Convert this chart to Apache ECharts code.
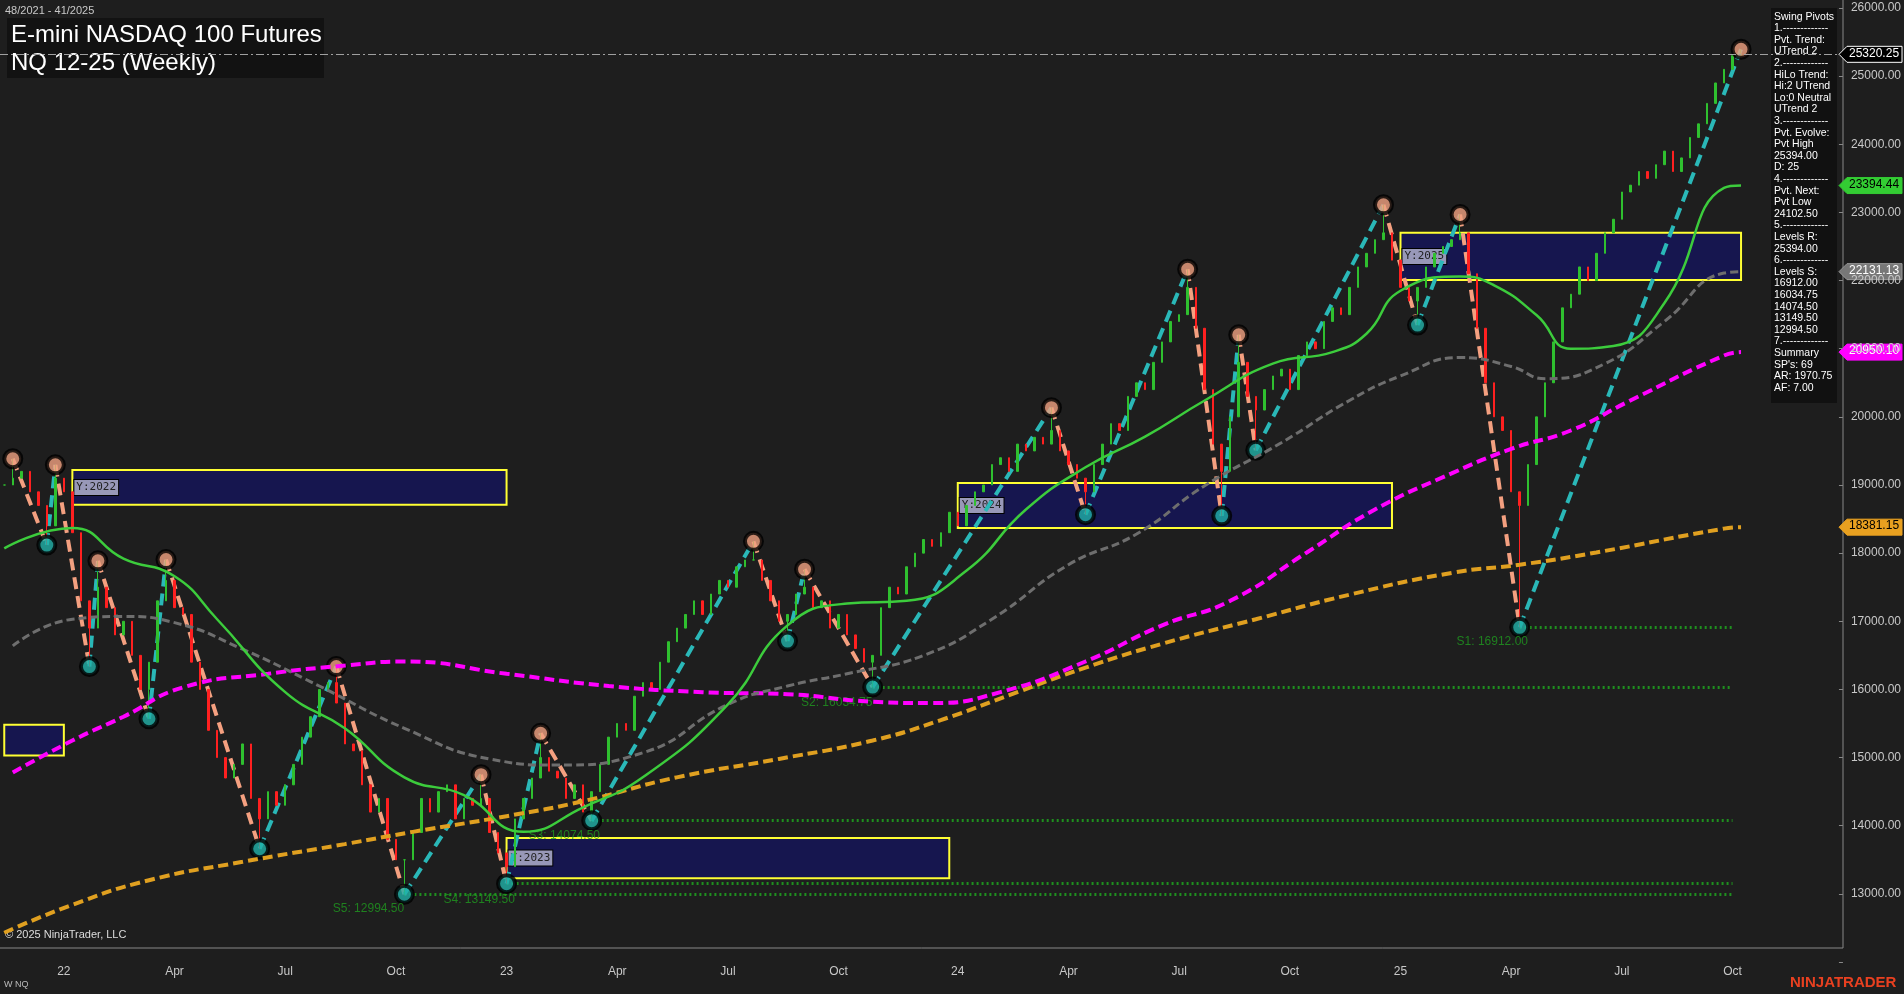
<!DOCTYPE html>
<html style="height: 100%">
  <head>
    <meta charset="utf-8" />
    <title>NQ Weekly</title>
    <script src="https://cdn.jsdelivr.net/npm/echarts@6/dist/echarts.min.js"></script>
  </head>
  <body style="height: 100%; margin: 0; background: #1e1e1e">
    <div id="main" style="width: 1904px; height: 994px"></div>
    <script type="text/javascript">
      // weekly closes (thousands), first week 2021-11-08
      var closes = [
        19.0, 19.1, 19.2, 18.9, 18.7, 18.4, 19.1, 18.9, 18.3, 17.3,
        16.9, 17.5, 17.2, 16.8, 17.0, 16.5, 16.0, 16.4, 17.3, 17.6,
        17.2, 17.1, 16.4, 16.0, 15.4, 15.0, 14.7, 14.9, 15.2, 14.4,
        14.1, 14.5, 14.3, 14.6, 14.9, 15.3, 15.6, 16.0, 16.1, 15.8,
        15.2, 15.1, 14.6, 14.2, 14.4, 13.8, 13.5, 13.5, 13.9, 14.4,
        14.2, 14.5, 14.6, 14.1, 14.4, 14.3, 14.4, 13.9, 13.6, 13.4,
        14.1, 14.4, 14.7, 15.0, 14.8, 14.7, 14.4, 14.6, 14.2, 14.5,
        14.9, 15.3, 15.5, 15.4, 15.9, 16.1, 16.0, 16.4, 16.7, 16.9,
        17.1, 17.3, 17.1, 17.4, 17.6, 17.5, 17.8, 17.9, 17.9, 17.6,
        17.3, 17.0, 17.1, 17.4, 17.5, 17.2, 17.3, 16.9, 17.1, 16.8,
        16.6, 16.4, 16.5, 17.2, 17.5, 17.4, 17.8, 18.0, 18.2, 18.1,
        18.3, 18.6, 18.4, 18.7, 18.9, 19.0, 19.3, 19.4, 19.2, 19.6,
        19.5, 19.7, 19.6, 19.8, 19.5, 19.3, 19.1, 18.9, 19.3, 19.6,
        19.9, 19.8, 20.3, 20.5, 20.4, 20.8, 21.1, 21.4, 21.5, 21.9,
        21.3, 20.4, 19.6, 19.2, 20.0, 20.8, 20.3, 20.1, 20.4, 20.6,
        20.7, 20.4, 20.9, 21.1, 21.0, 21.4, 21.6, 21.5, 21.9, 22.2,
        22.4, 22.6, 22.7, 22.3, 21.9, 21.7, 21.9, 22.2, 22.4, 22.5,
        22.6, 22.7, 22.1, 21.3, 20.5, 20.0, 19.8, 18.9, 18.7, 19.3,
        20.0, 20.5, 21.1, 21.6, 21.8, 22.2, 22.0, 22.4, 22.7, 22.9,
        23.3, 23.4, 23.6, 23.5, 23.7, 23.9, 23.6, 23.8, 24.1, 24.3,
        24.6, 24.9, 25.1, 25.3, 25.32
      ];
      // swing pivots [week index, price]
      var pivots = [
        [1, 19385], [5, 18119], [6, 19296], [10, 16336], [11, 17887],
        [17, 15570], [19, 17905], [30, 13662], [39, 16336], [47, 12994.5],
        [56, 14749], [59, 13149.5], [63, 15356], [69, 14074.5], [88, 18173],
        [92, 16710], [94, 17763], [102, 16034.75], [123, 20135], [127, 18565],
        [139, 22166], [143, 18547], [145, 21204], [147, 19510], [162, 23112],
        [166, 21347], [171, 22970], [178, 16912], [204, 25394]
      ];
      var maFast = [[0,18070],[8,18370],[14,17920],[20,17660],[25,17030],[33,15960],[40,15430],[47,14710],[54,14450],[61,13910],[68,14270],[75,14710],[85,15780],[92,16940],[99,17260],[106,17300],[113,17740],[120,18640],[127,19260],[134,19710],[141,20240],[149,20780],[156,20950],[160,21220],[164,21850],[171,22060],[175,21930],[180,21490],[184,21000],[189,21040],[195,21670],[202,23360],[204,23394]];
      var maMid = [[1,16640],[8,17030],[14,17070],[20,16980],[28,16590],[37,16050],[47,15430],[57,14980],[65,14890],[75,15070],[85,15780],[92,16050],[99,16230],[108,16500],[116,17030],[125,17830],[133,18280],[141,18990],[150,19620],[158,20240],[164,20600],[171,20870],[177,20740],[181,20560],[188,20780],[195,21400],[202,22110],[204,22131]];
      var maSlow = [[1,14780],[8,15250],[14,15600],[21,16030],[31,16230],[40,16350],[47,16410],[59,16230],[71,16050],[82,15960],[92,15930],[102,15820],[109,15800],[117,15960],[127,16410],[136,16940],[144,17300],[153,18010],[161,18640],[170,19170],[177,19530],[184,19800],[191,20240],[202,20900],[204,20950]];
      var maLong = [[0,12430],[8,12840],[17,13200],[28,13470],[40,13730],[48,13910],[59,14140],[68,14360],[79,14710],[91,14980],[102,15250],[110,15550],[119,15960],[127,16320],[136,16670],[147,17030],[158,17390],[170,17710],[178,17830],[187,18010],[202,18360],[204,18381]];
      // yearly boxes [label, startIdx, endIdx, low, high]
      var yearBoxes = [["", 0, 7, 15030, 15480], ["Y:2022", 8, 59, 18710, 19220], ["Y:2023", 59, 111, 13230, 13820], ["Y:2024", 112, 163, 18370, 19030], ["Y:2025", 164, 204, 22010, 22700]];
      // support levels [label, startIdx, price, labelIdx, labelPrice]
      var supports = [["S1: 16912.00", 178, 16912, 170, 16700], ["S2: 16034.75", 102, 16034.75, 93, 15800], ["S3: 14074.50", 69, 14074.5, 61, 13850], ["S4: 13149.50", 59, 13149.5, 51, 12920], ["S5: 12994.50", 47, 12994.5, 38, 12780]];
      var lastPrice = 25320.25;
      var tags = [[25320.25, "#000", "#fff", "#fff"], [23394.44, "#33cc33", "#000", "#33cc33"], [22131.13, "#777", "#fff", "#999"], [20950.1, "#ff00ff", "#fff", "#ff00ff"], [18381.15, "#e8a020", "#000", "#e8a020"]];
      var panelLines = ["Swing Pivots", "1.-------------", "Pvt. Trend:", "UTrend 2", "2.-------------", "HiLo Trend:", "Hi:2 UTrend", "Lo:0 Neutral", "UTrend 2", "3.-------------", "Pvt. Evolve:", "Pvt High", "25394.00", "D: 25", "4.-------------", "Pvt. Next:", "Pvt Low", "24102.50", "5.-------------", "Levels R:", "25394.00", "6.-------------", "Levels S:", "16912.00", "16034.75", "14074.50", "13149.50", "12994.50", "7.-------------", "Summary", "SP's: 69", "AR: 1970.75", "AF: 7.00"];

      var months = ["Jan","Feb","Mar","Apr","May","Jun","Jul","Aug","Sep","Oct","Nov","Dec"];
      var weeks = [];
      for (var i = 0; i < 216; i++) {
        weeks.push(new Date(2021, 10, 8 + 7 * i));
      }
      // label the week that contains the 1st of Jan/Apr/Jul/Oct
      function quarterStart(i) {
        var d = weeks[i];
        for (var k = 0; k < 7; k++) {
          var t = new Date(d.getFullYear(), d.getMonth(), d.getDate() + k);
          if (t.getDate() === 1 && t.getMonth() % 3 === 0) return t;
        }
        return null;
      }
      function labelFor(i) {
        var t = quarterStart(i);
        if (!t) return "";
        return t.getMonth() === 0 ? String(t.getFullYear()).slice(2) : months[t.getMonth()];
      }

      var pivotMap = {};
      pivots.forEach(function (p) { pivotMap[p[0]] = p[1]; });
      var bars = [];
      for (var i = 0; i < closes.length; i++) {
        var c = closes[i] * 1000;
        var o = i > 0 ? closes[i - 1] * 1000 : c;
        var lo = Math.min(o, c), hi = Math.max(o, c);
        if (pivotMap[i] !== undefined) {
          lo = Math.min(lo, pivotMap[i]);
          hi = Math.max(hi, pivotMap[i]);
        }
        bars.push([o, c, lo, hi]);
      }

      var legs = [];
      for (var i = 1; i < pivots.length; i++) {
        var up = pivots[i][1] > pivots[i - 1][1];
        legs.push({ coords: [pivots[i - 1], pivots[i]], lineStyle: { color: up ? "#2ab8b8" : "#f4a080" } });
      }
      var pivotPts = pivots.map(function (p, i) {
        var isHigh = (i === 0) ? p[1] > pivots[1][1] : p[1] > pivots[i - 1][1];
        return { value: p, itemStyle: { color: isHigh ? "#f0a080" : "#20b0a8" } };
      });

      var myChart = echarts.init(document.getElementById("main"));
      var option = {
        backgroundColor: "#1e1e1e",
        animation: false,
        grid: { left: 0, right: 61, top: 8, bottom: 32 },
        xAxis: {
          type: "category",
          data: weeks.map(function (d, i) { return "w" + i; }),
          axisLine: { show: false },
          axisTick: { show: false },
          splitLine: { show: false },
          axisLabel: {
            color: "#c8c8c8", fontSize: 12, margin: 4, fontFamily: "Liberation Sans",
            interval: function (i) { return !!quarterStart(i); },
            formatter: function (v, i) { return labelFor(i); }
          }
        },
        yAxis: {
          type: "value", position: "right", min: 12000, max: 26000, interval: 1000,
          axisLine: { show: false },
          axisTick: { show: true, length: 4, lineStyle: { color: "#888" } },
          splitLine: { show: false },
          axisLabel: {
            color: "#c8c8c8", fontSize: 12, margin: 12, fontFamily: "Liberation Sans",
            formatter: function (v) { return v >= 13000 ? v.toFixed(2) : ""; }
          }
        },
        series: [
          {
            type: "custom", renderItem: function () { return null; }, data: [],
            markArea: {
              silent: true,
              itemStyle: { color: "#16164f", borderColor: "#ffff33", borderWidth: 2 },
              label: { position: "insideLeft", distance: 3, color: "#222", backgroundColor: "#9898b8", fontFamily: "DejaVu Sans Mono", fontSize: 11, padding: [2, 2], borderColor: "#000", borderWidth: 1 },
              data: yearBoxes.map(function (b) {
                return [{ name: b[0], xAxis: b[1], yAxis: b[3], label: { show: b[0] !== "" } }, { xAxis: b[2], yAxis: b[4] }];
              })
            }
          },
          {
            type: "lines", coordinateSystem: "cartesian2d", silent: true,
            lineStyle: { color: "#1f8f1f", width: 3, type: [2, 3], opacity: 1 },
            data: supports.map(function (s) { return { coords: [[s[1], s[2]], [203, s[2]]] }; })
          },
          {
            type: "scatter", symbolSize: 0, silent: true,
            label: { show: true, position: "right", color: "#1f9a1f", fontSize: 12, fontFamily: "Liberation Sans", formatter: function (p) { return p.data.name; } },
            data: supports.map(function (s) { return { name: s[0], value: [s[3], s[4]] }; })
          },
          {
            type: "candlestick", data: bars, barMaxWidth: 2,
            itemStyle: { color: "#2fc02f", color0: "#ff2020", borderColor: "#2fc02f", borderColor0: "#ff2020", borderWidth: 1 },
            markLine: {
              silent: true, symbol: "none", label: { show: false },
              lineStyle: { color: "#a0a0a0", type: [8, 3, 2, 3], width: 1 },
              data: [{ yAxis: lastPrice }]
            }
          },
          { type: "line", data: maLong, smooth: true, showSymbol: false, lineStyle: { color: "#e0a020", width: 4, type: [10, 5] } },
          { type: "line", data: maSlow, smooth: true, showSymbol: false, lineStyle: { color: "#ff00ff", width: 4, type: [10, 5] } },
          { type: "line", data: maMid, smooth: true, showSymbol: false, lineStyle: { color: "#6e6e6e", width: 3, type: [8, 4] } },
          { type: "line", data: maFast, smooth: true, showSymbol: false, lineStyle: { color: "#3ccc3c", width: 2.5 } },
          {
            type: "lines", coordinateSystem: "cartesian2d", silent: true,
            lineStyle: { width: 4, type: [12, 7], opacity: 1 }, data: legs
          },
          {
            type: "scatter", data: pivotPts, symbolSize: 17, silent: true,
            itemStyle: { borderColor: "#000", borderWidth: 4 }
          }
        ]
      };
      myChart.setOption(option);

      var g = [
        { type: "line", shape: { x1: 0, y1: 948, x2: 1843, y2: 948 }, style: { stroke: "#888", lineWidth: 1 } },
        { type: "line", shape: { x1: 1843, y1: 0, x2: 1843, y2: 948 }, style: { stroke: "#888", lineWidth: 1 } },
        { type: "text", left: 5, top: 5, style: { text: "48/2021 - 41/2025", fill: "#c8c8c8", font: "11px Liberation Sans" } },
        { type: "rect", shape: { x: 7, y: 18, width: 317, height: 60 }, style: { fill: "#121212" } },
        { type: "text", x: 11, y: 21, style: { text: "E-mini NASDAQ 100 Futures\nNQ 12-25 (Weekly)", fill: "#fff", font: "24px Liberation Sans", lineHeight: 28 } },
        { type: "text", x: 5, y: 929, style: { text: "© 2025 NinjaTrader, LLC", fill: "#ddd", font: "11px Liberation Sans" } },
        { type: "text", x: 4, y: 980, style: { text: "W NQ", fill: "#bbb", font: "9px Liberation Sans" } },
        { type: "text", x: 1790, y: 975, style: { text: "NINJATRADER", fill: "#e84020", font: "bold 15px Liberation Sans" } },
        { type: "rect", shape: { x: 1771, y: 8, width: 66, height: 395 }, style: { fill: "#111" } },
        { type: "text", x: 1774, y: 11, style: { text: panelLines.join("\n"), fill: "#fff", font: "10.5px Liberation Sans", lineHeight: 11.6 } },
        { type: "text", x: 1698, y: 257, style: { text: "F0", fill: "#e0c030", font: "11px Liberation Sans" } }
      ];
      tags.forEach(function (t) {
        var y = myChart.convertToPixel({ yAxisIndex: 0 }, t[0]);
        g.push({ type: "polygon", shape: { points: [[1839, y], [1847, y - 8], [1902, y - 8], [1902, y + 8], [1847, y + 8]] }, style: { fill: t[1], stroke: t[3], lineWidth: 1 } });
        g.push({ type: "text", x: 1849, y: y - 7, style: { text: t[0].toFixed(2), fill: t[2], font: "12px Liberation Sans" } });
      });
      myChart.setOption({ graphic: g });
    </script>
  </body>
</html>
